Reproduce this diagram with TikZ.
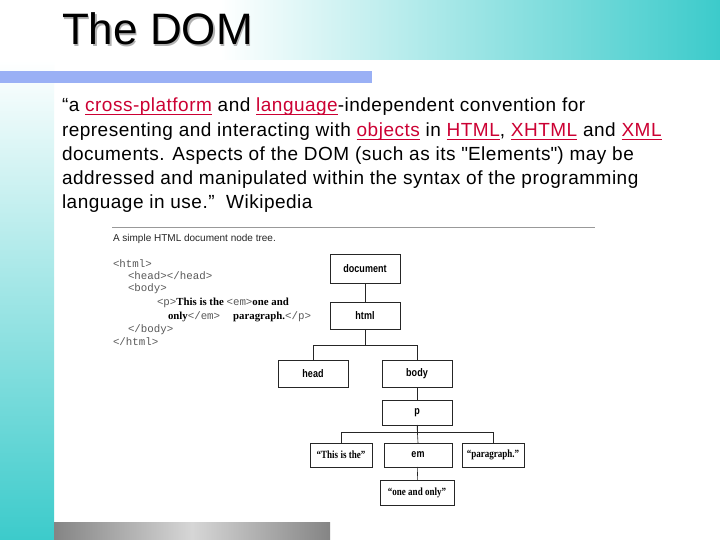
\documentclass[tikz,border=0pt]{standalone}
\usepackage{fontspec}
\setmainfont{Liberation Sans}
\newfontfamily\quotefont[LetterSpace=2.6]{Liberation Sans}
\newfontfamily\serifbold{Liberation Serif}
\newfontfamily\codefont{Liberation Mono}
\usetikzlibrary{positioning,calc}
\definecolor{slideteal}{HTML}{3CCBCB}
\definecolor{barblue}{HTML}{9AB0F5}
\definecolor{linkred}{HTML}{CC0033}
\newcommand\lnk[1]{\textcolor{linkred}{\setbox0\hbox{#1}\rlap{\rule[-3pt]{\wd0}{0.9pt}}\box0}}
\newcommand\narrow[1]{\scalebox{.82}[1]{#1}}

\begin{document}
\begin{tikzpicture}[x=1pt,y=-1pt, every node/.style={inner sep=0pt,outer sep=0pt},
  bodyline/.style={anchor=base west,font=\quotefont\fontsize{19}{22}\selectfont},
  codeline/.style={anchor=base west,font=\codefont\fontsize{10.8}{13}\selectfont,text=black!65},
  treebox/.style={draw=black!85,line width=0.6pt,fill=white,minimum width=70pt,minimum height=27pt,font=\fontsize{11}{12}\selectfont\bfseries},
  quotebox/.style={treebox,minimum width=62pt,minimum height=24pt,font=\serifbold\fontsize{11}{12}\selectfont\bfseries},
  treeline/.style={draw=black!85,line width=0.6pt}]
\useasboundingbox (0,0) rectangle (720,540);
\fill[white] (0,0) rectangle (720,540);
% slide decoration
\shade[left color=white,right color=slideteal] (220,0) rectangle (720,60);
\shade[top color=white,bottom color=slideteal] (0,60) rectangle (54,540);
\fill[barblue] (0,71) rectangle (372,83);
\shade[left color=black!48,right color=black!48,middle color=black!16] (54,522) rectangle (330,540);
% title
\node[anchor=base west,font=\fontsize{44}{50}\selectfont,text=black!30] (titleshadow) at (63.5,46.5) {The DOM};
\node[anchor=base west,font=\fontsize{44}{50}\selectfont] (title) at (62,45) {The DOM};
% quote
\node[bodyline] (line1) at (62,112) {“a \lnk{cross-platform} and \lnk{language}-independent convention for};
\node[bodyline] (line2) at (62,136.5) {representing and interacting with \lnk{objects} in \lnk{HTML}, \lnk{XHTML} and \lnk{XML}};
\node[bodyline] (line3) at (62,161) {documents. Aspects of the DOM (such as its \textquotedbl Elements\textquotedbl) may be};
\node[bodyline] (line4) at (62,185) {addressed and manipulated within the syntax of the programming};
\node[bodyline] (line5) at (62,209) {language in use.”\ \ Wikipedia};
% node tree figure
\draw[black!40,line width=0.5pt] (112,227) -- (595,227);
\node[anchor=base west,font=\fontsize{10}{12}\selectfont,text=black!85] (caption) at (113,241) {A simple HTML document node tree.};
\node[codeline] (c1) at (113,267) {<html>};
\node[codeline] (c2) at (128,279) {<head></head>};
\node[codeline] (c3) at (128,291) {<body>};
\node[codeline] (c4) at (157,305) {<p>{\serifbold\bfseries\color{black}This is the }<em>{\serifbold\bfseries\color{black}one and}};
\node[codeline] (c5) at (168,319) {{\serifbold\bfseries\color{black}only}</em>\ \ {\serifbold\bfseries\color{black}paragraph.}</p>};
\node[codeline] (c6) at (128,332) {</body>};
\node[codeline] (c7) at (113,345) {</html>};
\node[treebox,minimum height=29pt] (document) at (365,268.5) {\narrow{document}};
\node[treebox] (html) at (365,315.5) {\narrow{html}};
\node[treebox] (head) at (313,373.5) {\narrow{head}};
\node[treebox] (body) at (417,373.5) {\narrow{body}};
\node[treebox,minimum height=25pt] (p) at (417,412.5) {\narrow{p}};
\node[quotebox] (this) at (341,455) {\narrow{“This is the”}};
\node[treebox,minimum width=68pt,minimum height=24pt] (em) at (418,455) {\narrow{em}};
\node[quotebox] (para) at (493,455) {\narrow{“paragraph.”}};
\node[quotebox,minimum width=74pt,minimum height=25pt] (one) at (417,492.5) {\narrow{“one and only”}};
\draw[treeline] (document) -- (html);
\draw[treeline] (html.south) -- ++(0,16) -| (head.north);
\draw[treeline] (html.south) -- ++(0,16) -| (body.north);
\draw[treeline] (body) -- (p);
\draw[treeline] (p.south) -- ++(0,7) -| (this.north);
\draw[treeline] (p.south) -- ++(0,7) -| (para.north);
\draw[treeline] (p.south) -- (em.north);
\draw[treeline] (em) -- (one);
\end{tikzpicture}
\end{document}
